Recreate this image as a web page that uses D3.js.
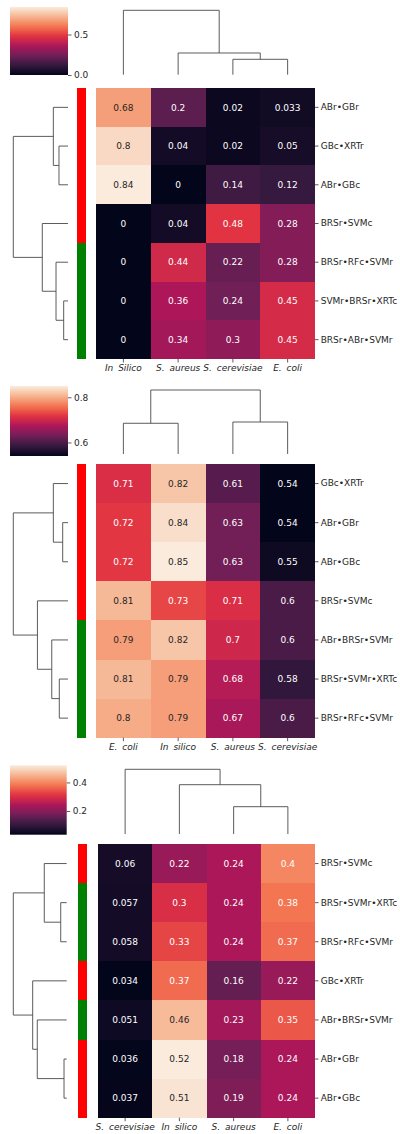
<!DOCTYPE html>
<html><head><meta charset="utf-8">
<script src="https://cdn.jsdelivr.net/npm/d3@7"></script>
<style>
html,body{margin:0;padding:0;background:#fff;}
svg{display:block;font-family:"DejaVu Sans",sans-serif;}
</style></head><body>
<svg id="chart" width="400" height="1134"></svg>
<script>
// ---------- DATA ----------
// Panel 1
const cols1 = ["In Silico", "S. aureus", "S. cerevisiae", "E. coli"];
const rows1 = ["ABr•GBr", "GBc•XRTr", "ABr•GBc", "BRSr•SVMc", "BRSr•RFc•SVMr", "SVMr•BRSr•XRTc", "BRSr•ABr•SVMr"];
const values1 = [
  [0.68, 0.2, 0.02, 0.033],
  [0.8, 0.04, 0.02, 0.05],
  [0.84, 0, 0.14, 0.12],
  [0, 0.04, 0.48, 0.28],
  [0, 0.44, 0.22, 0.28],
  [0, 0.36, 0.24, 0.45],
  [0, 0.34, 0.3, 0.45]
];
const rowGroups1 = ["red", "red", "red", "red", "green", "green", "green"];
const rowLinkage1 = [[1, 2, 0.165], [0, 7, 0.268], [5, 6, 0.079], [4, 9, 0.219], [3, 10, 0.47], [8, 11, 1]];
const colLinkage1 = [[2, 3, 0.239], [1, 4, 0.337], [0, 5, 1]];
const cbarTicks1 = [0.0, 0.5];

// Panel 2
const cols2 = ["E. coli", "In silico", "S. aureus", "S. cerevisiae"];
const rows2 = ["GBc•XRTr", "ABr•GBr", "ABr•GBc", "BRSr•SVMc", "ABr•BRSr•SVMr", "BRSr•SVMr•XRTc", "BRSr•RFc•SVMr"];
const values2 = [
  [0.71, 0.82, 0.61, 0.54],
  [0.72, 0.84, 0.63, 0.54],
  [0.72, 0.85, 0.63, 0.55],
  [0.81, 0.73, 0.71, 0.6],
  [0.79, 0.82, 0.7, 0.6],
  [0.81, 0.79, 0.68, 0.58],
  [0.8, 0.79, 0.67, 0.6]
];
const rowGroups2 = ["red", "red", "red", "red", "green", "green", "green"];
const rowLinkage2 = [[1, 2, 0.097], [0, 7, 0.268], [5, 6, 0.159], [4, 9, 0.297], [3, 10, 0.559], [8, 11, 1]];
const colLinkage2 = [[0, 1, 0.48], [2, 3, 0.5], [4, 5, 1]];
const cbarTicks2 = [0.6, 0.8];

// Panel 3
const cols3 = ["S. cerevisiae", "In silico", "S. aureus", "E. coli"];
const rows3 = ["BRSr•SVMc", "BRSr•SVMr•XRTc", "BRSr•RFc•SVMr", "GBc•XRTr", "ABr•BRSr•SVMr", "ABr•GBr", "ABr•GBc"];
const values3 = [
  [0.06, 0.22, 0.24, 0.4],
  [0.057, 0.3, 0.24, 0.38],
  [0.058, 0.33, 0.24, 0.37],
  [0.034, 0.37, 0.16, 0.22],
  [0.051, 0.46, 0.23, 0.35],
  [0.036, 0.52, 0.18, 0.24],
  [0.037, 0.51, 0.19, 0.24]
];
const rowGroups3 = ["red", "green", "green", "red", "green", "red", "red"];
const rowLinkage3 = [[1, 2, 0.112], [0, 7, 0.42], [5, 6, 0.05], [4, 9, 0.551], [3, 10, 0.637], [8, 11, 1]];
const colLinkage3 = [[2, 3, 0.422], [1, 4, 0.762], [0, 5, 1]];
const cbarTicks3 = [0.2, 0.4];

// rocket colormap stops
const rocketStops = ["#03051a", "#35193e", "#701f57", "#ad1759", "#e13342", "#f37651", "#f6b48f", "#faebdd"];
const groupColors = {red: "#ff0000", green: "#008000"};

// ---------- LAYOUT ----------
const layouts = [
  {y0: 0,   hmX: [96, 315], hmY: [88, 359],   rcX: [77, 86], leafX: 68,   rootX: 13.3, dBottom: 74.7, dRoot: 10.3, cbX: [10, 68],   cbY: [7, 75]},
  {y0: 380, hmX: [96, 315], hmY: [84, 357.7], rcX: [77, 86], leafX: 68,   rootX: 13.3, dBottom: 74,   dRoot: 10,   cbX: [10, 68],   cbY: [6, 76]},
  {y0: 760, hmX: [98, 315], hmY: [84, 357.7], rcX: [78, 87], leafX: 66.7, rootX: 13.3, dBottom: 74,   dRoot: 9.3,  cbX: [10, 66.7], cbY: [5.3, 74.7]}
];
const panelsData = [
  {cols: cols1, rows: rows1, values: values1, groups: rowGroups1, rowLink: rowLinkage1, colLink: colLinkage1, ticks: cbarTicks1},
  {cols: cols2, rows: rows2, values: values2, groups: rowGroups2, rowLink: rowLinkage2, colLink: colLinkage2, ticks: cbarTicks2},
  {cols: cols3, rows: rows3, values: values3, groups: rowGroups3, rowLink: rowLinkage3, colLink: colLinkage3, ticks: cbarTicks3}
];

const FONT = 9;
const TXT = "#262626";
const rocket = d3.scaleLinear()
  .domain(d3.range(rocketStops.length).map(i => i / (rocketStops.length - 1)))
  .range(rocketStops).interpolate(d3.interpolateRgb).clamp(true);

function lum(c) {
  const rgb = d3.rgb(c);
  const f = v => { v /= 255; return v <= 0.03928 ? v / 12.92 : Math.pow((v + 0.055) / 1.055, 2.4); };
  return 0.2126 * f(rgb.r) + 0.7152 * f(rgb.g) + 0.0722 * f(rgb.b);
}

const svg = d3.select("#chart");
const defs = svg.append("defs");

function dendro(g, linkage, n, leafPos, hScale, horizontal) {
  const pos = leafPos.slice(), h = new Array(n).fill(0);
  const segs = [];
  linkage.forEach(([a, b, H]) => {
    segs.push([[pos[a], h[a]], [pos[a], H], [pos[b], H], [pos[b], h[b]]]);
    pos.push((pos[a] + pos[b]) / 2);
    h.push(H);
  });
  const line = d3.line()
    .x(d => horizontal ? hScale(d[1]) : d[0])
    .y(d => horizontal ? d[0] : hScale(d[1]));
  g.selectAll("path.dend").data(segs).join("path").attr("class", "dend")
    .attr("d", line).attr("fill", "none").attr("stroke", "#4a4a4a").attr("stroke-width", 0.9);
}

panelsData.forEach((P, pi) => {
  const L = layouts[pi];
  const g = svg.append("g").attr("transform", `translate(0,${L.y0})`);
  const flat = P.values.flat();
  const [vmin, vmax] = d3.extent(flat);
  const color = v => rocket((v - vmin) / (vmax - vmin));

  const x = d3.scaleBand().domain(P.cols).range(L.hmX);
  const y = d3.scaleBand().domain(P.rows).range(L.hmY);

  // heatmap cells
  const cells = [];
  P.values.forEach((r, i) => r.forEach((v, j) => cells.push({row: P.rows[i], col: P.cols[j], v})));
  g.selectAll("rect.cell").data(cells).join("rect").attr("class", "cell")
    .attr("x", d => x(d.col)).attr("y", d => y(d.row))
    .attr("width", x.bandwidth()).attr("height", y.bandwidth())
    .attr("shape-rendering", "crispEdges")
    .attr("fill", d => color(d.v));
  g.selectAll("text.ann").data(cells).join("text").attr("class", "ann")
    .attr("x", d => x(d.col) + x.bandwidth() / 2)
    .attr("y", d => y(d.row) + y.bandwidth() / 2)
    .attr("dy", "0.35em").attr("text-anchor", "middle")
    .attr("font-size", FONT)
    .attr("fill", d => lum(color(d.v)) > 0.408 ? TXT : "#ffffff")
    .text(d => String(d.v));

  // row colors
  g.selectAll("rect.rc").data(P.rows).join("rect").attr("class", "rc")
    .attr("x", L.rcX[0]).attr("width", L.rcX[1] - L.rcX[0])
    .attr("y", d => y(d)).attr("height", y.bandwidth())
    .attr("shape-rendering", "crispEdges")
    .attr("fill", (d, i) => groupColors[P.groups[i]]);

  // axes
  const ax = g.append("g").attr("transform", `translate(0,${L.hmY[1]})`)
    .call(d3.axisBottom(x).tickSize(3.5).tickPadding(2));
  const ay = g.append("g").attr("transform", `translate(${L.hmX[1]},0)`)
    .call(d3.axisRight(y).tickSize(3.5).tickPadding(2.2));
  [ax, ay].forEach(a => {
    a.select(".domain").remove();
    a.attr("font-family", null).attr("font-size", null);
    a.selectAll(".tick line").attr("stroke", "#333").attr("stroke-width", 0.8);
    a.selectAll(".tick text").attr("fill", TXT).attr("font-size", FONT);
  });
  ax.selectAll(".tick text").attr("font-style", "italic").attr("word-spacing", "2px");

  // dendrograms
  const colH = d3.scaleLinear().domain([0, 1]).range([L.dBottom, L.dRoot]);
  dendro(g.append("g"), P.colLink, P.cols.length, P.cols.map(c => x(c) + x.bandwidth() / 2), colH, false);
  const rowH = d3.scaleLinear().domain([0, 1]).range([L.leafX, L.rootX]);
  dendro(g.append("g"), P.rowLink, P.rows.length, P.rows.map(r => y(r) + y.bandwidth() / 2), rowH, true);

  // colorbar
  const gid = "cb" + pi;
  const grad = defs.append("linearGradient").attr("id", gid)
    .attr("x1", 0).attr("y1", 1).attr("x2", 0).attr("y2", 0);
  d3.range(0, 1.0001, 1 / 64).forEach(t => {
    grad.append("stop").attr("offset", t).attr("stop-color", rocket(t));
  });
  g.append("rect").attr("x", L.cbX[0]).attr("y", L.cbY[0])
    .attr("width", L.cbX[1] - L.cbX[0]).attr("height", L.cbY[1] - L.cbY[0])
    .attr("fill", `url(#${gid})`);
  const cs = d3.scaleLinear().domain([vmin, vmax]).range([L.cbY[1], L.cbY[0]]);
  const ac = g.append("g").attr("transform", `translate(${L.cbX[1]},0)`)
    .call(d3.axisRight(cs).tickValues(P.ticks).tickFormat(d3.format(".1f")).tickSize(3.5).tickPadding(2.5));
  ac.select(".domain").remove();
  ac.attr("font-family", null).attr("font-size", null);
  ac.selectAll(".tick line").attr("stroke", "#333").attr("stroke-width", 0.8);
  ac.selectAll(".tick text").attr("fill", TXT).attr("font-size", FONT);
});
</script>
</body></html>
